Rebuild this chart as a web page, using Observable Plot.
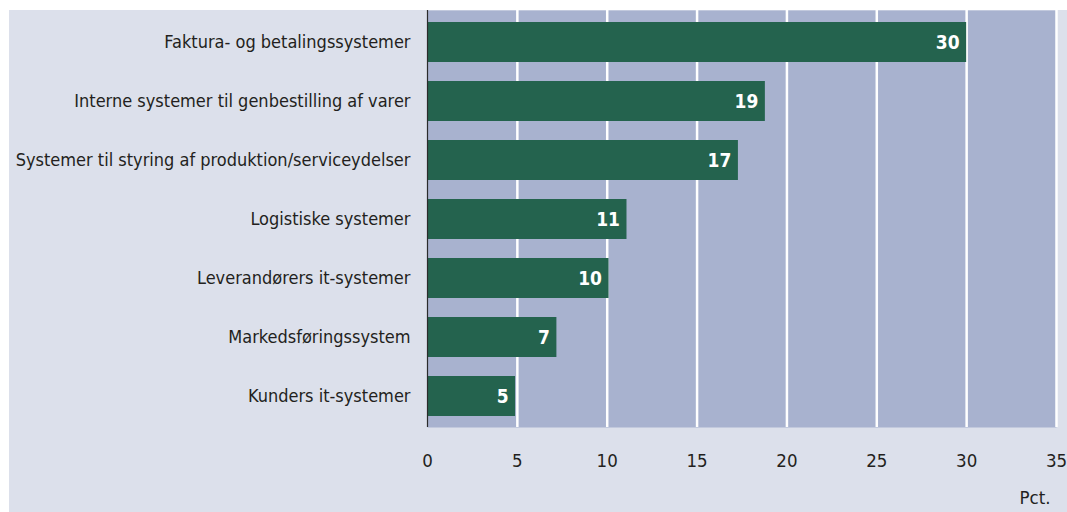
<!DOCTYPE html>
<html>
<head>
<meta charset="utf-8">
<script src="https://cdn.jsdelivr.net/npm/d3@7"></script>
<script src="https://cdn.jsdelivr.net/npm/@observablehq/plot@0.6"></script>
<style>
  html, body { margin: 0; padding: 0; background: #ffffff; }
  #wrap { position: relative; width: 1067px; height: 512px; overflow: hidden; }
  #bg { position: absolute; left: 9px; top: 10px; right: 0; bottom: 0; background: #dce0eb; }
  #chart { position: absolute; left: 0; top: 0; }
  #chart svg { background: transparent; max-width: none; overflow: visible; }
  #chart svg text { font-stretch: condensed; }
</style>
</head>
<body>
<div id="wrap"><div id="bg"></div><div id="chart"></div></div>
<script>
const categories = [
  "Faktura- og betalingssystemer",
  "Interne systemer til genbestilling af varer",
  "Systemer til styring af produktion/serviceydelser",
  "Logistiske systemer",
  "Leverandørers it-systemer",
  "Markedsføringssystem",
  "Kunders it-systemer"
];
const values = [30, 18.8, 17.3, 11.1, 10.1, 7.2, 4.9];
const valueLabels = ["30", "19", "17", "11", "10", "7", "5"];
const xTicks = [0, 5, 10, 15, 20, 25, 30, 35];
const gridTicks = [5, 10, 15, 20, 25, 30, 35];
const unitLabel = "Pct.";

const data = categories.map((c, i) => ({category: c, value: values[i], label: valueLabels[i]}));
const font = "'DejaVu Sans Condensed', 'DejaVu Sans', sans-serif";

const chart = Plot.plot({
  width: 1067,
  height: 512,
  marginLeft: 427,
  marginRight: 11,
  marginTop: 10,
  marginBottom: 85,
  style: {fontFamily: font, background: "transparent", color: "#231f20"},
  x: {domain: [0, 35]},
  y: {domain: categories, paddingInner: 0.33, paddingOuter: 0.165},
  marks: [
    Plot.frame({fill: "#a8b2cf", stroke: null}),
    Plot.ruleX(gridTicks, {stroke: "#ffffff", strokeWidth: 2.5}),
    Plot.barX(data, {y: "category", x: "value", fill: "#24634e"}),
    Plot.ruleX([0], {stroke: "#2b2b2b", strokeWidth: 1.2}),
    Plot.text(data, {y: "category", x: "value", text: "label", textAnchor: "end", dx: -7,
      fill: "#ffffff", fontWeight: "bold", fontSize: 19}),
    Plot.axisY({tickSize: 0, tickPadding: 17, fontSize: 18, label: null, fill: "#231f20"}),
    Plot.axisX({ticks: xTicks, tickSize: 0, tickPadding: 26, fontSize: 18.5, label: null, fill: "#231f20"}),
    Plot.text([unitLabel], {frameAnchor: "bottom-right", dy: 76, dx: -6, fontSize: 18.5, textAnchor: "end", fill: "#231f20"})
  ]
});
document.getElementById("chart").appendChild(chart);
</script>
</body>
</html>
